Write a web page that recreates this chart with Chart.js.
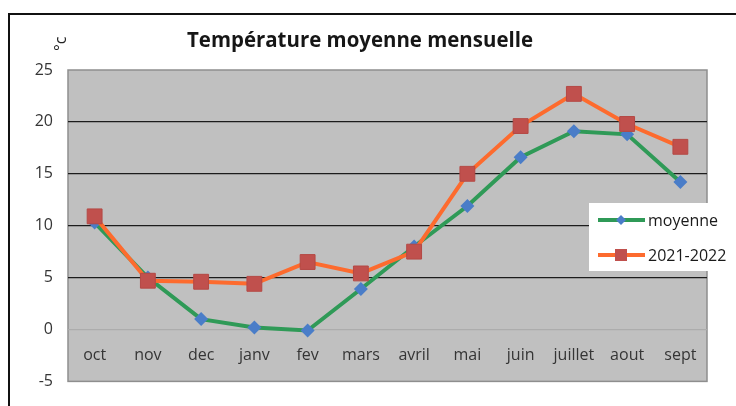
<!DOCTYPE html>
<html>
<head>
<meta charset="utf-8">
<script src="https://cdn.jsdelivr.net/npm/chart.js@4"></script>
<style>
  html, body { margin: 0; padding: 0; background: #fff; }
  #wrap { position: relative; width: 736px; height: 406px; overflow: hidden; }
  #frame { position: absolute; left: 8px; top: 13px; width: 760px; height: 420px; border: 2px solid #111; }
  #wrap canvas { position: absolute; left: 0; top: 0; }
</style>
</head>
<body>
<div id="wrap">
  <div id="frame"></div>
  <canvas id="chartTemp" width="736" height="406"></canvas>
</div>
<script>
/* ---- data ---- */
const months   = ['oct', 'nov', 'dec', 'janv', 'fev', 'mars', 'avril', 'mai', 'juin', 'juillet', 'aout', 'sept'];
const moyenne  = [10.3, 5.0, 1.0, 0.2, -0.1, 3.9, 8.0, 11.9, 16.6, 19.1, 18.8, 14.2];
const saison   = [10.9, 4.7, 4.6, 4.4, 6.5, 5.4, 7.5, 15.0, 19.6, 22.7, 19.8, 17.6];
const yMin = -5, yMax = 25, yStep = 5;

const titleText = 'Température moyenne mensuelle';
const unitText  = '°c';
const FONT = "'Open Sans', 'Noto Sans', sans-serif";

/* ---- background, title, unit and legend drawn around the plot ---- */
const decor = {
  id: 'decor',
  beforeDraw(chart) {
    const { ctx, chartArea: a } = chart;
    ctx.save();
    ctx.fillStyle = '#c0c0c0';
    ctx.fillRect(a.left, a.top, a.width, a.height);
    ctx.strokeStyle = '#8e8e8e';
    ctx.lineWidth = 1.5;
    ctx.strokeRect(a.left, a.top, a.width, a.height);
    ctx.restore();
  },
  afterDraw(chart) {
    const { ctx } = chart;
    ctx.save();

    // title, fitted to the width of the original
    ctx.font = `bold 21px ${FONT}`;
    ctx.fillStyle = '#161616';
    ctx.textBaseline = 'alphabetic';
    ctx.textAlign = 'left';
    const tw = ctx.measureText(titleText).width;
    const sx = Math.max(0.85, Math.min(1.15, 346 / tw));
    ctx.save();
    ctx.translate(187, 47);
    ctx.scale(sx, 1);
    ctx.fillText(titleText, 0, 0);
    ctx.restore();

    // unit, turned on its side
    ctx.save();
    ctx.font = `16px ${FONT}`;
    ctx.fillStyle = '#222';
    ctx.translate(66, 51);
    ctx.rotate(-Math.PI / 2);
    ctx.fillText(unitText, 0, 0);
    ctx.restore();

    // legend box over the plot
    ctx.fillStyle = '#ffffff';
    ctx.fillRect(589, 203, 141, 68);
    const rows = [220, 255];
    chart.data.datasets.forEach((ds, i) => {
      const y = rows[i];
      ctx.strokeStyle = ds.borderColor;
      ctx.lineWidth = ds.borderWidth;
      ctx.beginPath();
      ctx.moveTo(598, y);
      ctx.lineTo(645, y);
      ctx.stroke();
      ctx.fillStyle = ds.pointBackgroundColor;
      Chart.helpers.drawPoint(ctx, {
        pointStyle: ds.pointStyle,
        radius: ds.legendRadius,
        rotation: 0,
        borderWidth: 0,
      }, 621, y);
      ctx.font = `16px ${FONT}`;
      ctx.fillStyle = '#1a1a1a';
      ctx.textBaseline = 'middle';
      ctx.fillText(ds.label, 648, y + 1);
    });
    ctx.restore();
  },
};

new Chart(document.getElementById('chartTemp'), {
  type: 'line',
  data: {
    labels: months,
    datasets: [
      {
        label               : 'moyenne',
        data                : moyenne,
        borderColor         : '#2f9a57',
        borderWidth         : 4,
        pointStyle          : 'rectRot',
        pointRadius         : 7,
        pointBorderWidth    : 0,
        pointBackgroundColor: '#4a7dc8',
        legendRadius        : 5,
        tension             : 0,
        order               : 2,
      },
      {
        label               : '2021-2022',
        data                : saison,
        borderColor         : '#fd6b2e',
        borderWidth         : 4,
        pointStyle          : 'rect',
        pointRadius         : 10.5,
        pointBorderWidth    : 1,
        pointBorderColor    : '#b44844',
        pointBackgroundColor: '#c0504d',
        legendRadius        : 8.5,
        tension             : 0,
        order               : 1,
      },
    ],
  },
  options: {
    responsive: false,
    animation: false,
    layout: { padding: { top: 70, right: 29, bottom: 16, left: 0 } },
    plugins: {
      legend : { display: false },
      title  : { display: false },
      tooltip: { enabled: false },
    },
    scales: {
      x: {
        type    : 'category',
        offset  : true,
        position: { y: 0 },
        grid    : { display: false },
        border  : { display: false },
        ticks   : { color: '#353535', font: { family: FONT, size: 16 }, padding: 8, maxRotation: 0 },
      },
      y: {
        min: yMin,
        max: yMax,
        grid: {
          drawTicks: false,
          lineWidth: 1.3,
          color: c => {
            const v = c.tick.value;
            if (v === 0) return '#acacac';
            if (v === yMin || v === yMax) return 'rgba(0,0,0,0)';
            return '#1c1c1c';
          },
        },
        border: { display: false },
        ticks : { stepSize: yStep, color: '#353535', font: { family: FONT, size: 16 }, padding: 15 },
        afterFit: s => { s.width = 68; },
      },
    },
  },
  plugins: [decor],
});
</script>
</body>
</html>
